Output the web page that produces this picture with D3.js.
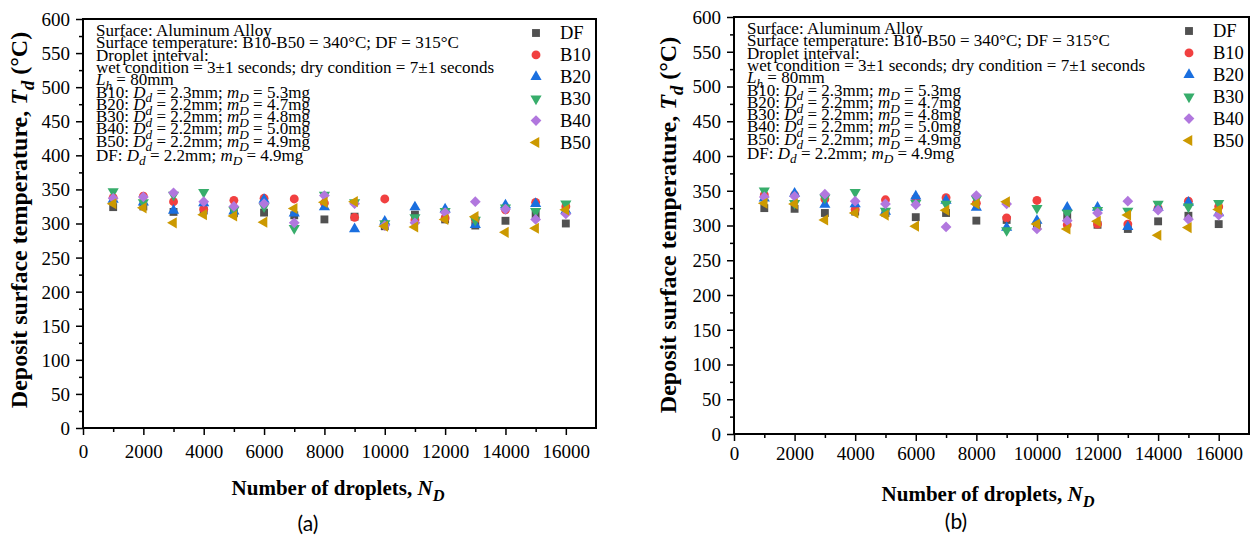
<!DOCTYPE html>
<html>
<head>
<meta charset="utf-8">
<script src="https://d3js.org/d3.v7.min.js"></script>
<style>
  body { margin: 0; background: #fff; }
  svg { display: block; font-family: "Liberation Serif", "Times New Roman", serif; }
  .axis line { stroke: #000; stroke-width: 1.5; }
  .axis path { display: none; }
</style>
</head>
<body>
<div id="container"></div>
<script>
"use strict";

// x positions shared by every series
const droplets = [1000, 2000, 3000, 4000, 5000, 6000, 7000, 8000,
    9000, 10000, 11000, 12000, 13000, 14000, 15000, 16000];
const seriesNames = ["DF", "B10", "B20", "B30", "B40", "B50"];
const seriesColors = ["#515151", "#F14040", "#1A6FDF", "#37AD6B", "#B177DE", "#CC9900"];
const yTicks = [0, 50, 100, 150, 200, 250, 300, 350, 400, 450, 500, 550, 600];
const xTicks = [0, 2000, 4000, 6000, 8000, 10000, 12000, 14000, 16000];

// panel (a) temperatures, degC
const aDF  = [324, 325, 317, 319, 315, 316, 312, 306, 310, 296, 313, 306, 297, 304, 313, 300];
const aB10 = [338, 340, 332, 321, 334, 337, 336, 330, 309, 336, 305, 308, 306, 320, 331, 325];
const aB20 = [335, 331, 319, 330, 318, 335, 315, 324, 292, 303, 324, 321, 298, 327, 329, 319];
const aB30 = [347, 331, 342, 346, 320, 325, 293, 342, 331, 300, 309, 318, 305, 323, 318, 329];
const aB40 = [337, 339, 345, 332, 325, 329, 301, 341, 329, 297, 301, 316, 332, 321, 306, 314];
const aB50 = [329, 323, 301, 313, 311, 302, 322, 331, 332, 296, 295, 306, 310, 287, 293, 320];

// panel (b) temperatures, degC
const bDF  = [325, 324, 318, 320, 318, 312, 318, 307, 308, 299, 313, 301, 295, 306, 314, 302];
const bB10 = [344, 344, 338, 323, 337, 339, 340, 332, 311, 336, 301, 302, 302, 325, 335, 327];
const bB20 = [339, 346, 330, 331, 320, 342, 336, 326, 297, 307, 326, 326, 298, 326, 333, 318];
const bB30 = [350, 332, 340, 348, 321, 332, 331, 338, 293, 325, 318, 322, 321, 331, 327, 332];
const bB40 = [341, 342, 345, 335, 331, 330, 298, 343, 331, 295, 307, 318, 335, 322, 309, 315];
const bB50 = [332, 331, 308, 318, 315, 299, 322, 331, 334, 302, 295, 306, 315, 286, 297, 323];

// annotation block; *x* = italic, _x = italic subscript
const notes = [
    "Surface: Aluminum Alloy",
    "Surface temperature: B10-B50 = 340°C; DF = 315°C",
    "Droplet interval:",
    "wet condition = 3±1 seconds; dry condition = 7±1 seconds",
    "*L*_h = 80mm",
    "B10: *D*_d = 2.3mm; *m*_D = 5.3mg",
    "B20: *D*_d = 2.2mm; *m*_D = 4.7mg",
    "B30: *D*_d = 2.2mm; *m*_D = 4.8mg",
    "B40: *D*_d = 2.2mm; *m*_D = 5.0mg",
    "B50: *D*_d = 2.2mm; *m*_D = 4.9mg",
    "DF: *D*_d = 2.2mm; *m*_D = 4.9mg"
];

const serif = "'Liberation Serif', 'Times New Roman', serif";
const width = 1255, height = 540;
const svg = d3.select("#container").append("svg")
    .attr("width", width)
    .attr("height", height);

const panels = [
    { name: "(a)", series: [aDF, aB10, aB20, aB30, aB40, aB50],
      left: 83, top: 19, right: 596, bottom: 428,
      xLabelY: 458, xTitleX: 338, xTitleY: 495, yTitleX: 19, yTitleY: 220,
      tagX: 308, tagY: 531 },
    { name: "(b)", series: [bDF, bB10, bB20, bB30, bB40, bB50],
      left: 734, top: 17, right: 1249, bottom: 434,
      xLabelY: 460, xTitleX: 988, xTitleY: 501, yTitleX: 668, yTitleY: 225,
      tagX: 956, tagY: 529 }
];

// marker shapes, same order as seriesNames
const shapes = [
    { type: d3.symbolSquare, size: 62, rot: 0 },
    { type: d3.symbolCircle, size: 62, rot: 0 },
    { type: d3.symbolTriangle, size: 54, rot: 0 },
    { type: d3.symbolTriangle, size: 54, rot: 180 },
    { type: d3.symbolSquare, size: 58, rot: 45 },
    { type: d3.symbolTriangle, size: 54, rot: -90 }
];
const symbolPath = s => d3.symbol().type(s.type).size(s.size)();

// write a line with italic / subscript parts as tspans
const richText = function(textSel, str, fontSize) {
    const parts = str.split(/(\*[^*]+\*|_\w)/).filter(p => p.length);
    const shift = fontSize * 0.28;
    let down = false;
    parts.forEach(p => {
        const t = textSel.append("tspan");
        if (p[0] === "*") {
            t.text(p.slice(1, -1)).attr("font-style", "italic");
        } else if (p[0] === "_") {
            t.text(p.slice(1)).attr("font-style", "italic")
                .attr("font-size", fontSize * 0.78).attr("dy", shift);
            down = true;
            return;
        } else {
            t.text(p);
        }
        if (down) { t.attr("dy", -shift); down = false; }
    });
};

const drawPanel = function(p) {
    const x = d3.scaleLinear().domain([0, 17000]).range([p.left, p.right]);
    const y = d3.scaleLinear().domain([0, 600]).range([p.bottom, p.top]);
    const g = svg.append("g");

    // axes, major and minor ticks outward
    const yAxis = g.append("g").attr("class", "axis")
        .attr("transform", `translate(${p.left},0)`)
        .call(d3.axisLeft(y).tickValues(yTicks).tickSize(7).tickSizeOuter(0).tickPadding(6))
        .attr("font-family", serif)
        .attr("font-size", 19);
    yAxis.selectAll("text").attr("dy", "0.34em").attr("fill", "#000");
    g.append("g").attr("class", "axis")
        .attr("transform", `translate(${p.left},0)`)
        .call(d3.axisLeft(y).tickValues(d3.range(25, 600, 50)).tickSize(4)
            .tickSizeOuter(0).tickFormat(""));

    const xAxis = g.append("g").attr("class", "axis")
        .attr("transform", `translate(0,${p.bottom})`)
        .call(d3.axisBottom(x).tickValues(xTicks).tickSize(7).tickSizeOuter(0)
            .tickFormat(d3.format("d")))
        .attr("font-family", serif)
        .attr("font-size", 19);
    xAxis.selectAll("text").attr("y", p.xLabelY - p.bottom).attr("dy", 0).attr("fill", "#000");
    g.append("g").attr("class", "axis")
        .attr("transform", `translate(0,${p.bottom})`)
        .call(d3.axisBottom(x).tickValues(d3.range(1000, 17000, 2000)).tickSize(4)
            .tickSizeOuter(0).tickFormat(""));

    // frame
    g.append("rect")
        .attr("x", p.left).attr("y", p.top)
        .attr("width", p.right - p.left).attr("height", p.bottom - p.top)
        .attr("fill", "none").attr("stroke", "#000").attr("stroke-width", 2);

    // points
    p.series.forEach((vals, i) => {
        g.append("g")
            .selectAll("path")
            .data(vals)
            .enter().append("path")
                .attr("d", symbolPath(shapes[i]))
                .attr("fill", seriesColors[i])
                .attr("transform", (d, j) =>
                    `translate(${x(droplets[j])},${y(d)}) rotate(${shapes[i].rot})`);
    });

    // notes, packed tightly like the original
    const noteY = d3.scaleLinear().domain([0, 9]).range([p.top + 17, p.top + 127.7]);
    notes.forEach((line, i) => {
        const t = g.append("text")
            .attr("x", p.left + 13)
            .attr("y", i < 10 ? noteY(i) : p.top + 141.5)
            .attr("font-size", 17);
        richText(t, line, 17);
    });

    // legend
    const legend = g.append("g").attr("class", "legend");
    seriesNames.forEach((name, i) => {
        const ly = p.top + 14 + i * 21.9;
        legend.append("path")
            .attr("d", symbolPath(shapes[i]))
            .attr("fill", seriesColors[i])
            .attr("transform", `translate(${p.right - 60},${ly}) rotate(${shapes[i].rot})`);
        legend.append("text")
            .attr("x", p.right - 36)
            .attr("y", ly)
            .attr("dy", "0.35em")
            .attr("font-size", 18.5)
            .text(name);
    });

    // titles
    const xt = g.append("text")
        .attr("x", p.xTitleX)
        .attr("y", p.xTitleY)
        .attr("text-anchor", "middle")
        .attr("font-weight", "bold")
        .attr("font-size", 21);
    richText(xt, "Number of droplets, *N*_D", 21);

    const yt = g.append("text")
        .attr("transform", `translate(${p.yTitleX},${p.yTitleY}) rotate(-90)`)
        .attr("text-anchor", "middle")
        .attr("dy", "0.35em")
        .attr("font-weight", "bold")
        .attr("font-size", 24);
    richText(yt, "Deposit surface temperature, *T*_d (°C)", 24);

    svg.append("text")
        .attr("x", p.tagX)
        .attr("y", p.tagY)
        .attr("text-anchor", "middle")
        .attr("font-family", "Lato, 'Open Sans', sans-serif")
        .attr("font-size", 21)
        .text(p.name);
};

panels.forEach(drawPanel);
</script>
</body>
</html>
